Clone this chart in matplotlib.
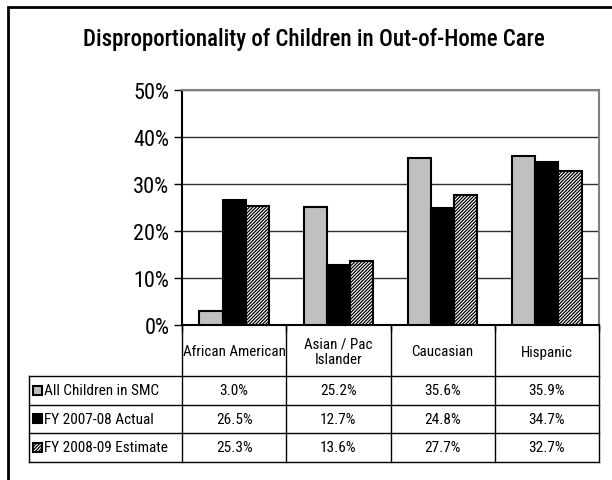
import matplotlib
matplotlib.use("Agg")
import matplotlib.pyplot as plt
from matplotlib.lines import Line2D
from matplotlib.patches import Rectangle
from matplotlib.ticker import PercentFormatter
from matplotlib import font_manager

categories = ["African American", "Asian / Pac\nIslander", "Caucasian", "Hispanic"]
series_names = ["All Children in SMC", "FY 2007-08 Actual", "FY 2008-09 Estimate"]
all_children = [3.0, 25.2, 35.6, 35.9]
fy0708 = [26.5, 12.7, 24.8, 34.7]
fy0809 = [25.3, 13.6, 27.7, 32.7]
series_values = [all_children, fy0708, fy0809]
yticks = [0, 10, 20, 30, 40, 50]

names = {f.name for f in font_manager.fontManager.ttflist}
fam = "DejaVu Sans"
for cand in ["Liberation Sans Narrow", "Arial Narrow", "Roboto Condensed", "Archivo Narrow", "PT Sans Narrow"]:
    if cand in names:
        fam = cand
        break
plt.rcParams['font.family'] = [fam, 'DejaVu Sans']
plt.rcParams['hatch.linewidth'] = 0.9

W, H = 612, 481
fig = plt.figure(figsize=(W / 100, H / 100), dpi=100)

def fx(px):
    return px / W

def fy(py):
    return 1 - py / H

# outer frame (extends past right/bottom edges)
fig.add_artist(Rectangle((fx(8), fy(520)), fx(700), fy(8) - fy(520), transform=fig.transFigure,
                         fill=False, edgecolor='black', linewidth=2))

L, R, T, B = 182, 599, 91, 326
ax = fig.add_axes([fx(L), fy(B), fx(R) - fx(L), fy(T) - fy(B)])

styles = [dict(color='#c0c0c0', hatch=None),
          dict(color='black', hatch=None),
          dict(color='white', hatch='//////////')]
bw = 0.222
n = len(categories)
for i, (vals, st) in enumerate(zip(series_values, styles)):
    xs = [k + (i - 1) * bw for k in range(n)]
    ax.bar(xs, vals, width=bw, color=st['color'], edgecolor='black', linewidth=1.5,
           hatch=st['hatch'], zorder=3)

ax.set_xlim(-0.5, n - 0.5)
ax.set_ylim(0, 50)
ax.set_yticks(yticks)
ax.yaxis.set_major_formatter(PercentFormatter(decimals=0))
ax.tick_params(axis='y', labelsize=16, length=6, width=1, direction='out', pad=3)
ax.set_xticks([k - 0.5 for k in range(n + 1)])
ax.set_xticklabels([])
ax.tick_params(axis='x', length=5, width=1, direction='out')
ax.grid(axis='y', color='#303030', linewidth=1, zorder=0)
ax.set_axisbelow(True)
for s in ['top', 'right']:
    ax.spines[s].set_color('#808080')
    ax.spines[s].set_linewidth(1.5)
ax.spines['left'].set_linewidth(1.5)
ax.spines['bottom'].set_linewidth(1.5)

fig.text(fx(314), fy(46), "Disproportionality of Children in Out-of-Home Care", ha='center', va='baseline',
         fontsize=16.5, fontweight='medium')

# table
TL = 29
col_w = (R - L) / n
rows_y = [326, 377, 405.5, 434, 463]
lw = 1

def hline(x0, x1, y):
    fig.add_artist(Line2D([fx(x0), fx(x1)], [fy(y), fy(y)], transform=fig.transFigure,
                          color='black', linewidth=lw))

def vline(x, y0, y1):
    fig.add_artist(Line2D([fx(x), fx(x)], [fy(y0), fy(y1)], transform=fig.transFigure,
                          color='black', linewidth=lw))

for y in rows_y[1:]:
    hline(TL, R, y)
vline(TL, rows_y[1], rows_y[-1])
for k in range(n + 1):
    vline(L + k * col_w, rows_y[0], rows_y[-1])

for k, c in enumerate(categories):
    fig.text(fx(L + (k + 0.5) * col_w), fy((rows_y[0] + rows_y[1]) / 2 + 1), c,
             ha='center', va='center', fontsize=10.8, linespacing=1.15)

for r, (name, vals, st) in enumerate(zip(series_names, series_values, styles)):
    yc = (rows_y[r + 1] + rows_y[r + 2]) / 2
    sz = 9
    fig.add_artist(Rectangle((fx(TL + 4), fy(yc + sz / 2)), fx(sz), fy(yc - sz / 2) - fy(yc + sz / 2),
                             transform=fig.transFigure, facecolor=st['color'], edgecolor='black',
                             linewidth=1.5, hatch=st['hatch']))
    fig.text(fx(TL + 15), fy(yc), name, ha='left', va='center', fontsize=11)
    for k, v in enumerate(vals):
        fig.text(fx(L + (k + 0.5) * col_w), fy(yc), f"{v:.1f}%", ha='center', va='center', fontsize=11)

fig.savefig("out.png", dpi=100)
